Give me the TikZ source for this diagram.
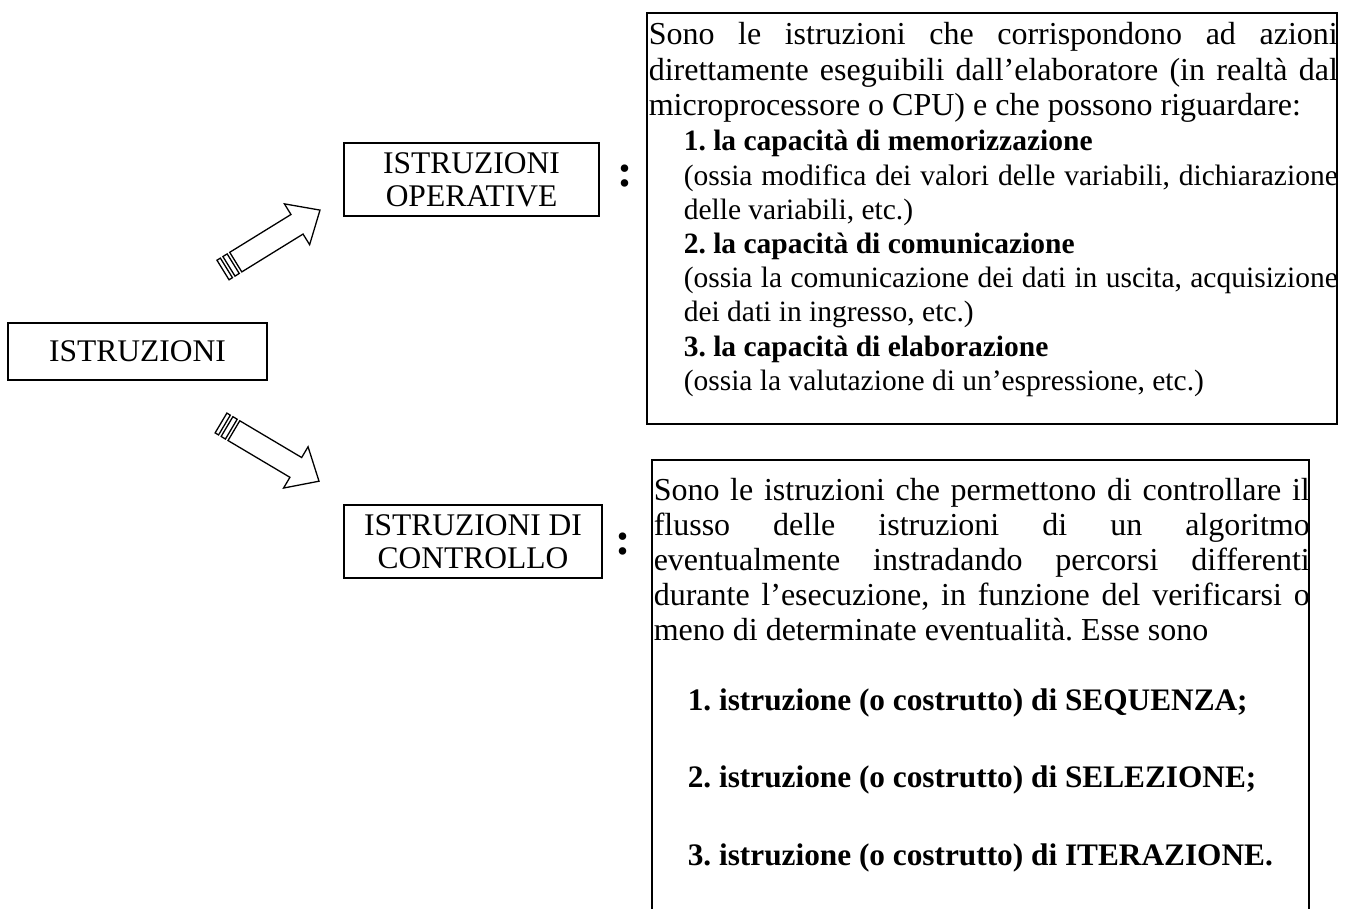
\documentclass[tikz,border=0pt]{standalone}
\usepackage{fontspec}
\setmainfont{Liberation Serif}
\tolerance=10000
\hbadness=10000
\frenchspacing

\begin{document}
\begin{tikzpicture}[x=1pt, y=-1pt, line width=1.5pt,
  labelbox/.style={draw, line width=1.5pt, inner sep=0pt, align=center,
    font=\fontsize{31.5}{33}\selectfont},
  bigtext/.style={anchor=base west, inner sep=0pt, align=justify,
    font=\fontsize{32}{35.6}\selectfont},
  listtext/.style={anchor=base west, inner sep=0pt, align=justify,
    font=\fontsize{29.5}{34.2}\selectfont},
  itemtext/.style={anchor=base west, inner sep=0pt,
    font=\fontsize{31.3}{36}\selectfont\bfseries},
  colon/.style={inner sep=0pt, font=\fontsize{46}{46}\selectfont\bfseries},
  stripedarrow/.pic={
    \draw[line width=1.3pt] (0,-11.5) rectangle (4,11.5);
    \draw[line width=1.3pt] (7,-11.5) rectangle (12,11.5);
    \draw[line width=1.3pt, line join=miter] (15,-11.5) -- (87,-11.5) -- (87,-24)
      -- (114,0) -- (87,24) -- (87,11.5) -- (15,11.5) -- cycle;
  }]
  \useasboundingbox (0,0) rectangle (1349,909);

  \node[labelbox, minimum width=259, minimum height=57] (istr) at (137.5,351.5) {ISTRUZIONI};
  \node[labelbox, minimum width=255, minimum height=73] (oper) at (471.5,179.5) {ISTRUZIONI\\OPERATIVE};
  \node[labelbox, minimum width=258, minimum height=73] (ctrl) at (473,541.5) {ISTRUZIONI DI\\CONTROLLO};

  \coordinate (opTail) at (223,270);
  \coordinate (ctTail) at (221,423);
  \pic[rotate=31.7] at (opTail) {stripedarrow};
  \pic[rotate=-30.7] at (ctTail) {stripedarrow};

  \node[colon] (opcolon) at (625,176) {:};
  \node[colon] (ctcolon) at (623,544) {:};

  \draw[line width=1.8pt] (647,13) rectangle (1337,424);
  \node[bigtext, text width=689] (optext) at (648,44.5) {Sono le istruzioni che corrispondono ad azioni\linebreak
    direttamente eseguibili dall’elaboratore (in realtà dal\linebreak
    microprocessore o CPU) e che possono riguardare:};
  \node[listtext, text width=654] (oplist) at (683,151) {\textbf{1. la capacità di memorizzazione}\\
    (ossia modifica dei valori delle variabili, dichiarazione\linebreak
    delle variabili, etc.)\\
    \textbf{2. la capacità di comunicazione}\\
    (ossia la comunicazione dei dati in uscita, acquisizione\linebreak
    dei dati in ingresso, etc.)\\
    \textbf{3. la capacità di elaborazione}\\
    (ossia la valutazione di un’espressione, etc.)};

  \draw[line width=1.8pt] (652,909) -- (652,460) -- (1309,460) -- (1309,909);
  \node[bigtext, text width=656, font=\fontsize{32}{35.2}\selectfont] (cttext) at (653,500) {Sono le istruzioni che permettono di controllare il\linebreak
    flusso delle istruzioni di un algoritmo\linebreak
    eventualmente instradando percorsi differenti\linebreak
    durante l’esecuzione, in funzione del verificarsi o\linebreak
    meno di determinate eventualità. Esse sono};
  \node[itemtext] (seq) at (687,710) {1. istruzione (o costrutto) di SEQUENZA;};
  \node[itemtext] (sel) at (687,787.5) {2. istruzione (o costrutto) di SELEZIONE;};
  \node[itemtext] (iter) at (687,865) {3. istruzione (o costrutto) di ITERAZIONE.};
\end{tikzpicture}
\end{document}
